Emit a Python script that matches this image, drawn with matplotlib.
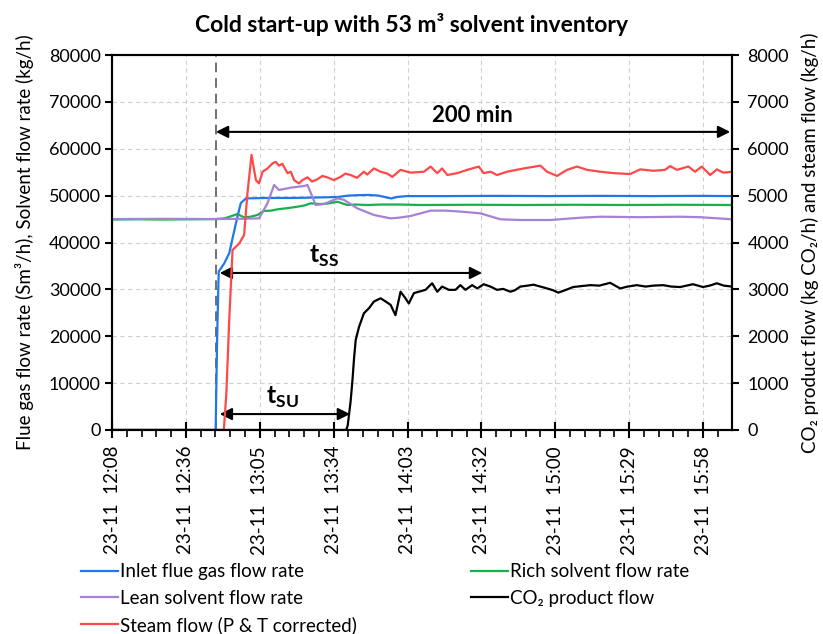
import matplotlib.pyplot as plt
import numpy as np

plt.rcParams['font.family'] = ['Lato', 'DejaVu Sans']
plt.rcParams['mathtext.fontset'] = 'custom'
plt.rcParams['mathtext.rm'] = 'Lato'
plt.rcParams['mathtext.bf'] = 'Lato:bold'

# time axis: minutes after 12:08 on 23-11
tick_minutes = [0, 28.8, 57.6, 86.4, 115.2, 144.0, 172.8, 201.6, 230.4]
tick_clock = ["12:08", "12:36", "13:05", "13:34", "14:03",
              "14:32", "15:00", "15:29", "15:58"]
tick_day = "23-11"

# (minute, value) pairs
inlet_flue_gas = [(0, 0), (40.4, 0), (41.0, 20000), (41.6, 33800), (43.7, 35500),
                  (45.7, 37700), (48.3, 44100), (50.2, 48400), (52.2, 49400),
                  (60, 49500), (70, 49500), (80, 49600), (88, 49700), (92, 50000),
                  (96, 50100), (100, 50150), (104, 50000), (107, 49600),
                  (109, 49400), (111, 49700), (115, 49900), (130, 49900),
                  (150, 49950), (170, 49900), (190, 49950), (210, 49900),
                  (230, 49950), (241.7, 49900)]

rich_solvent = [(0, 44900), (10, 44950), (20, 44900), (30, 44950), (40, 45000),
                (44, 45150), (48.9, 46080), (51.4, 45370), (54, 45500),
                (56.7, 45870), (59.2, 46720), (62, 46800), (64.5, 47080),
                (68, 47300), (72.3, 47640), (75, 47900), (77.5, 48360),
                (81, 48200), (84, 48300), (87.9, 48700), (91.7, 48000),
                (95, 48100), (99.5, 48000), (105, 48100), (112.5, 48100),
                (120, 48000), (140, 48050), (160, 48000), (180, 48050),
                (200, 48000), (220, 48050), (241.7, 48000)]

lean_solvent = [(0, 45000), (20, 45050), (40, 45000), (50, 45050), (57.3, 45150),
                (60.6, 48360), (63.2, 52270), (65.1, 51200), (69.7, 51700),
                (74.9, 52050), (76.2, 52270), (78.1, 49770), (79.4, 48000),
                (82.6, 48200), (87.9, 49420), (90.4, 49100), (95.6, 47290),
                (102.1, 45870), (108.6, 45150), (112, 45300), (116.4, 45650),
                (124.2, 46800), (130, 46800), (135.8, 46600), (143.6, 46220),
                (151.4, 44950), (159.2, 44800), (170.9, 44800), (182.6, 45290),
                (190.3, 45500), (205.9, 45400), (221.5, 45500), (229.3, 45400),
                (241.7, 44950)]

steam = [(0, 0), (10, 0), (20, 0), (30, 0), (43.2, 0), (43.6, 0), (44.6, 800),
         (45.7, 2350), (47, 3840), (49.6, 3980), (51.5, 4160), (52.8, 5050),
         (54.4, 5870), (56.1, 5330), (57.3, 5260), (58.7, 5510), (60.6, 5580),
         (62.6, 5690), (63.8, 5720), (65.1, 5640), (66.4, 5680), (68.4, 5480),
         (69.7, 5510), (71, 5330), (72.9, 5260), (74.2, 5330), (76.2, 5390),
         (78, 5300), (80.1, 5350), (82, 5420), (83.9, 5390), (86.5, 5330),
         (89.1, 5400), (91, 5470), (93, 5440), (95.5, 5380), (98.2, 5510),
         (99.5, 5450), (102.1, 5580), (104.7, 5510), (107.3, 5470),
         (109.3, 5400), (112.5, 5550), (116.4, 5490), (121.6, 5510),
         (124.2, 5620), (126.8, 5480), (128.7, 5580), (130.7, 5440),
         (134.6, 5480), (138.5, 5550), (143, 5620), (144.9, 5480),
         (147.5, 5510), (150.1, 5440), (154, 5510), (160.5, 5580),
         (167, 5640), (169.6, 5510), (173.5, 5420), (177.4, 5550),
         (181.3, 5620), (185.2, 5550), (190.3, 5510), (195.5, 5480),
         (202, 5460), (205.9, 5560), (211.1, 5530), (215.6, 5550),
         (217.6, 5630), (220.2, 5550), (224.7, 5620), (227.3, 5510),
         (229.9, 5620), (233.2, 5440), (235.8, 5560), (238.3, 5490),
         (241.7, 5510)]

co2_product = [(0, 0), (91.3, 0), (91.9, 100), (93, 600), (93.8, 1100),
               (94.3, 1490), (95, 1920), (96.3, 2200), (98.2, 2490),
               (100.2, 2600), (102.1, 2740), (104.7, 2810), (106.7, 2740),
               (108.6, 2670), (110.5, 2450), (112.5, 2950), (114.4, 2810),
               (115.7, 2700), (117.7, 2920), (119.6, 2950), (122.2, 2990),
               (124.8, 3130), (126.8, 2950), (128.7, 3060), (131.3, 2990),
               (133.9, 2990), (135.8, 3090), (137.8, 2990), (140.4, 3090),
               (142.4, 3020), (144.9, 3110), (147.5, 3060), (150.1, 2990),
               (152.5, 3010), (155.3, 2950), (157, 2980), (159.2, 3060),
               (162, 3080), (164.3, 3100), (167, 3060), (169.6, 3020),
               (172, 2980), (174, 2930), (177, 2990), (179.8, 3050),
               (183, 3070), (186.5, 3090), (190, 3080), (194.2, 3140),
               (198.1, 3020), (201, 3060), (204.6, 3090), (208, 3060),
               (211, 3080), (214.9, 3090), (218, 3060), (221.5, 3050),
               (224, 3080), (226.5, 3110), (230.4, 3050), (233, 3080),
               (235.8, 3130), (238.5, 3080), (241.7, 3060)]

# annotation values
start_minute = 40.5
run_end = 241.0
ss_end = 144.3
su_end = 92.8

fig = plt.figure(figsize=(8.23, 6.34), dpi=100)
ax = fig.add_axes([112 / 823, 1 - 430 / 634, 620 / 823, 375 / 634])
ax2 = ax.twinx()

lw = 1.6
series_left = [("Inlet flue gas flow rate", inlet_flue_gas, "#1f78e8"),
               ("Rich solvent flow rate", rich_solvent, "#16b04c"),
               ("Lean solvent flow rate", lean_solvent, "#a682d4")]
handles = {}
for label, pts, color in series_left:
    t, v = zip(*pts)
    handles[label], = ax.plot(t, v, color=color, lw=lw, label=label)

t, v = zip(*steam)
handles["Steam flow (P & T corrected)"], = ax2.plot(
    t, v, color="#ff4848", lw=lw, label="Steam flow (P & T corrected)")
t, v = zip(*co2_product)
handles["CO₂ product flow"], = ax2.plot(
    t, v, color="black", lw=lw, label="CO₂ product flow")

ax.set_xlim(0, 241.7)
ax.set_ylim(0, 80000)
ax2.set_ylim(0, 8000)
ax.set_yticks(np.arange(0, 80001, 10000))
ax2.set_yticks(np.arange(0, 8001, 1000))
ax.set_xticks(tick_minutes)
ax.set_xticklabels([f"{tick_day}  {c}" for c in tick_clock], rotation=90)
ax.set_xticks(np.arange(0, 241.7, 5.76), minor=True)

ax.grid(True, which="major", color="#d0d0d0", ls=(0, (4, 3)), lw=0.8)
ax.set_axisbelow(True)

for a in (ax, ax2):
    for s in a.spines.values():
        s.set_linewidth(1.5)
        s.set_color("black")
ax.tick_params(axis="y", direction="out", length=5, width=1.5, labelsize=13, pad=3)
ax2.tick_params(axis="y", direction="out", length=5, width=1.5, labelsize=13, pad=6)
ax.tick_params(axis="x", which="major", direction="inout", length=11, width=1.5,
               labelsize=13.5, pad=6)
ax.tick_params(axis="x", which="minor", direction="out", length=5, width=1.2)

ax.set_ylabel("Flue gas flow rate (Sm³/h), Solvent flow rate (kg/h)",
              fontsize=13.5, labelpad=11)
ax2.set_ylabel("CO₂ product flow (kg CO₂/h) and steam flow (kg/h)",
               fontsize=13.5, labelpad=9)
fig.text(0.5, 1 - 24 / 634, "Cold start-up with 53 m³ solvent inventory",
         ha="center", va="center", fontsize=16.5, fontweight="bold")

# start marker and duration arrows
ax.axvline(start_minute, color="#707070", ls=(0, (5, 3)), lw=1.4, zorder=1)
arrow = dict(arrowstyle="<|-|>", color="black", lw=1.5, mutation_scale=18,
             shrinkA=0, shrinkB=0)
ax.annotate("", xy=(start_minute, 63600), xytext=(run_end, 63600), arrowprops=arrow)
ax.text(140.5, 64800, "200 min", ha="center", va="bottom",
        fontsize=16, fontweight="bold")
ax.annotate("", xy=(42, 33500), xytext=(ss_end, 33500), arrowprops=arrow)
ax.text(82.5, 34300, r"$\mathbf{t}_{\mathbf{SS}}$", ha="center", va="bottom", fontsize=18)
ax.annotate("", xy=(42, 3400), xytext=(su_end, 3400), arrowprops=arrow)
ax.text(66.4, 4200, r"$\mathbf{t}_{\mathbf{SU}}$", ha="center", va="bottom", fontsize=18)

ax2.set_zorder(ax.get_zorder() + 1)
ax2.patch.set_visible(False)

leg_kw = dict(frameon=False, fontsize=13.5, handlelength=1.95, handletextpad=0.12,
              labelspacing=0.5, borderpad=0, loc="upper left")
fig.legend([handles["Inlet flue gas flow rate"], handles["Lean solvent flow rate"],
            handles["Steam flow (P & T corrected)"]],
           ["Inlet flue gas flow rate", "Lean solvent flow rate",
            "Steam flow (P & T corrected)"],
           bbox_to_anchor=(72 / 823, 1 - 554 / 634), **leg_kw)
fig.legend([handles["Rich solvent flow rate"], handles["CO₂ product flow"]],
           ["Rich solvent flow rate", "CO₂ product flow"],
           bbox_to_anchor=(462 / 823, 1 - 554 / 634), **leg_kw)

fig.savefig("out.png", dpi=100)
